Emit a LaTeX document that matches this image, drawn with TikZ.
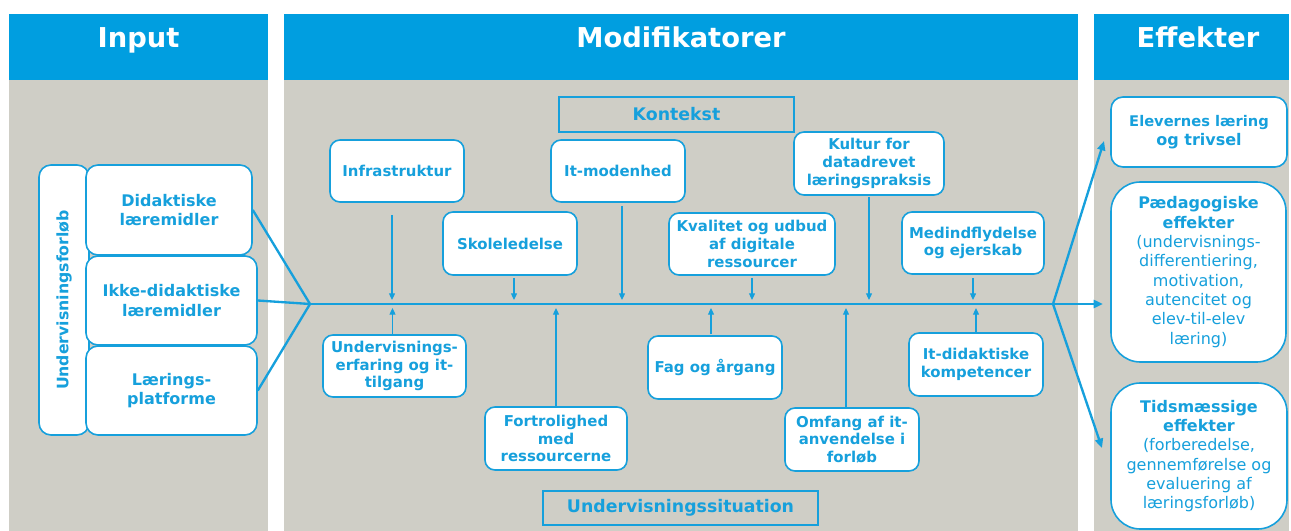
\documentclass[tikz,border=0pt]{standalone}
\usepackage{fontspec}
\setmainfont{DejaVu Sans}
\usetikzlibrary{arrows.meta,calc}
\definecolor{hdrblue}{RGB}{0,158,224}
\definecolor{pgray}{RGB}{207,206,198}
\definecolor{tblue}{RGB}{22,160,220}
\newcommand\rbx[7]{\node[#1,minimum width={(#5-#3)*0.75pt},minimum height={(#6-#4)*0.75pt}] (#2) at ({(#3+#5)/2},{(#4+#6)/2}) {#7};}
\newcommand\rg[1]{{\mdseries #1}}
\begin{document}
\begin{tikzpicture}[x=0.75pt,y=-0.75pt,
 hdr/.style={fill=hdrblue,draw=none},
 body/.style={fill=pgray,draw=none},
 title/.style={text=white,font=\bfseries\fontsize{20.5}{25}\selectfont,anchor=base,inner sep=0pt},
 inbox/.style={draw=tblue,fill=white,line width=1.2pt,rounded corners=9pt,text=tblue,align=center,inner sep=0pt,font=\bfseries\fontsize{12}{14.3}\selectfont},
 modbox/.style={inbox,rounded corners=7.5pt,font=\bfseries\fontsize{11.2}{13.3}\selectfont},
 catbox/.style={draw=tblue,line width=1.2pt,text=tblue,inner sep=0pt,font=\bfseries\fontsize{13}{15}\selectfont},
 effbox/.style={inbox,rounded corners=22pt,font=\bfseries\fontsize{12}{14.5}\selectfont},
 spine/.style={draw=tblue,line width=1.75pt},
 spinearrow/.style={spine,-{Triangle[length=7pt,width=6pt]}},
 modarrow/.style={draw=tblue,line width=0.9pt,-{Triangle[length=5pt,width=4.5pt]}},
]
\fill[white] (0,0) rectangle (1291,531);
\useasboundingbox (0,0) rectangle (1291,531);
% panels
\fill[body] (9,80) rectangle (268,531);
\fill[hdr] (9,14) rectangle (268,80);
\fill[body] (284,80) rectangle (1078,531);
\fill[hdr] (284,14) rectangle (1078,80);
\fill[body] (1094,80) rectangle (1289,531);
\fill[hdr] (1094,14) rectangle (1289,80);
\node[title] (tin) at (138.5,48) {Input};
\node[title] (tmod) at (681,48) {Modifikatorer};
\node[title] (teff) at (1198,48) {Effekter};
% input
\rbx{inbox}{forlob}{39}{165}{89}{435}{}
\node[text=tblue,rotate=90,font=\bfseries\fontsize{11.8}{14}\selectfont] (forlobtxt) at (64,300) {Undervisningsforløb};
\rbx{inbox}{did}{86}{165}{252}{255}{Didaktiske\\læremidler}
\rbx{inbox}{ikke}{86}{256}{257}{345}{Ikke-didaktiske\\læremidler}
\rbx{inbox}{lar}{86}{346}{257}{435}{Lærings-\\platforme}
% category labels
\rbx{catbox}{kontekst}{559}{97}{794}{132}{Kontekst}
\rbx{catbox}{usit}{543}{491}{818}{525}{Undervisningssituation}
% modifier boxes
\rbx{modbox}{infra}{330}{140}{464}{202}{Infrastruktur}
\rbx{modbox}{skole}{443}{212}{577}{275}{Skoleledelse}
\rbx{modbox}{itmod}{551}{140}{685}{202}{It-modenhed}
\rbx{modbox}{kval}{669}{213}{835}{275}{Kvalitet og udbud\\af digitale\\ressourcer}
\rbx{modbox}{kultur}{794}{132}{944}{195}{Kultur for\\datadrevet\\læringspraksis}
\rbx{modbox}{medind}{902}{212}{1044}{274}{Medindflydelse\\og ejerskab}
\rbx{modbox}{uerf}{323}{335}{466}{397}{Undervisnings-\\erfaring og it-\\tilgang}
\rbx{modbox}{fortr}{485}{407}{627}{470}{Fortrolighed\\med\\ressourcerne}
\rbx{modbox}{fag}{648}{336}{782}{399}{Fag og årgang}
\rbx{modbox}{omfang}{785}{408}{919}{471}{Omfang af it-\\anvendelse i\\forløb}
\rbx{modbox}{itdid}{909}{333}{1043}{396}{It-didaktiske\\kompetencer}
% effects
\rbx{inbox}{eff1}{1111}{97}{1287}{167}{\fontsize{11}{13.5}\selectfont Elevernes læring\\og trivsel}
\rbx{effbox}{eff2}{1111}{182}{1286}{362}{Pædagogiske\\effekter\\\rg{(undervisnings-}\\\rg{differentiering,}\\\rg{motivation,}\\\rg{autencitet og}\\\rg{elev-til-elev}\\\rg{læring)}}
\rbx{effbox}{eff3}{1111}{383}{1287}{529}{Tidsmæssige\\effekter\\\rg{(forberedelse,}\\\rg{gennemførelse og}\\\rg{evaluering af}\\\rg{læringsforløb)}}
% spine
\coordinate (apex) at (310,304);
\coordinate (fork) at (1053,304);
\coordinate (spinetip) at (1103,304);
\coordinate (e1tip) at (1104,141);
\coordinate (e3tip) at (1102,448);
\draw[spine] (did.east) -- (apex) -- (lar.east);
\draw[spine] (ikke.east) -- (apex);
\draw[spinearrow] (apex) -- (spinetip);
\draw[spinearrow] (fork) -- (e1tip);
\draw[spinearrow] (fork) -- (e3tip);
% modifier arrows (top)
\draw[modarrow] ($(infra.south)+(-5,12)$) -- ($(infra.south|-apex)+(-5,-4)$);
\draw[modarrow] ($(skole.south)+(4,2)$) -- ($(skole.south|-apex)+(4,-4)$);
\draw[modarrow] ($(itmod.south)+(4,3)$) -- ($(itmod.south|-apex)+(4,-4)$);
\draw[modarrow] ($(kval.south)+(0,2)$) -- ($(kval.south|-apex)+(0,-4)$);
\draw[modarrow] ($(kultur.south)+(0,1)$) -- ($(kultur.south|-apex)+(0,-4)$);
\draw[modarrow] ($(medind.south)+(0,3)$) -- ($(medind.south|-apex)+(0,-4)$);
% modifier arrows (bottom)
\draw[modarrow] ($(uerf.north)+(-2,0)$) -- ($(uerf.north|-apex)+(-2,4)$);
\draw[modarrow] (fortr.north) -- ($(fortr.north|-apex)+(0,4)$);
\draw[modarrow] ($(fag.north)+(-4,-1)$) -- ($(fag.north|-apex)+(-4,4)$);
\draw[modarrow] ($(omfang.north)+(-6,0)$) -- ($(omfang.north|-apex)+(-6,4)$);
\draw[modarrow] (itdid.north) -- ($(itdid.north|-apex)+(0,4)$);
\end{tikzpicture}
\end{document}
